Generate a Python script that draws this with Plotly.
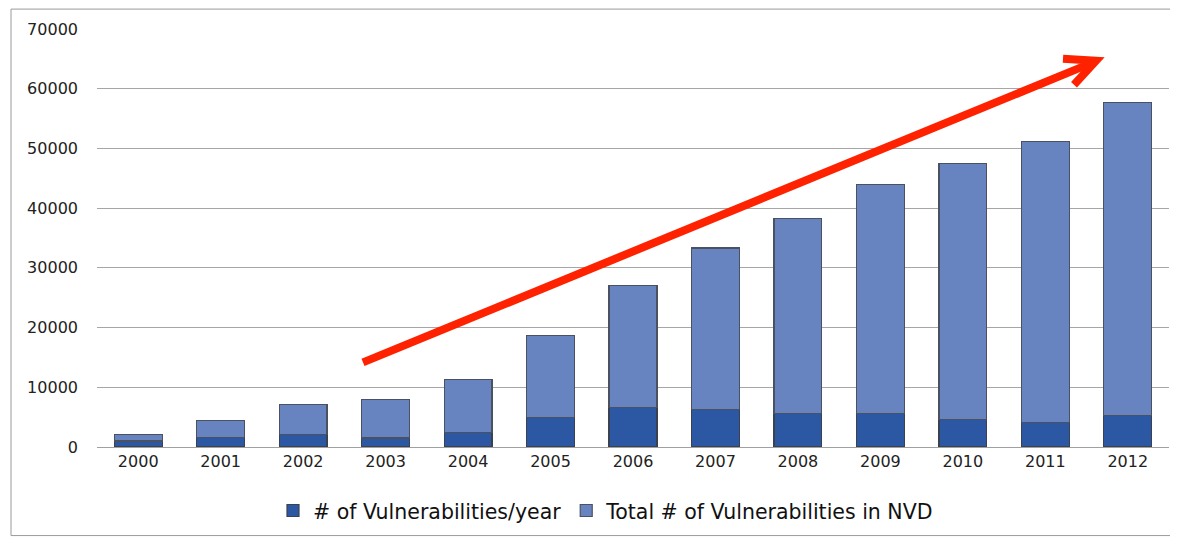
import plotly.graph_objects as go

years = ["2000", "2001", "2002", "2003", "2004", "2005", "2006", "2007", "2008", "2009", "2010", "2011", "2012"]
vulns_per_year = [1000, 1600, 2150, 1500, 2450, 4900, 6550, 6330, 5550, 5650, 4550, 4170, 5280]
total_in_nvd = [1150, 2780, 4950, 6400, 8850, 13800, 20450, 27000, 32650, 38350, 42950, 47030, 52420]
series_names = ["# of Vulnerabilities/year", "Total # of Vulnerabilities in NVD"]

W, H = 1178, 537
OFF = 8  # page body offset
ML, MR, MT, MB = 97 - OFF, 17, 27 - OFF, 98
YMAX = 70000
pw = W - ML - MR
ph = H - MT - MB


def px_to_data(px, py):
    # px/py: window pixel positions
    fx, fy = px - OFF, py - OFF
    cat = (fx - ML) / pw * len(years) - 0.5
    val = (H - MB - fy) / ph * YMAX
    return cat, val


fig = go.Figure()
fig.add_trace(go.Bar(
    x=years, y=vulns_per_year, name=series_names[0],
    marker=dict(color="#2c58a3", line=dict(color="#3a4252", width=1.2)),
))
fig.add_trace(go.Bar(
    x=years, y=total_in_nvd, name=series_names[1],
    marker=dict(color="#6884c0", line=dict(color="#4a5262", width=1.2)),
))

# red trend arrow (decoration)
x0, y0 = px_to_data(363, 362)
x1, y1 = px_to_data(1092, 61)
fig.add_shape(type="line", xref="x", yref="y", x0=x0, y0=y0, x1=x1, y1=y1,
              line=dict(color="#ff2200", width=8))
ax, ay = px_to_data(1063, 57)
tx, ty = px_to_data(1096, 59)
bx, by = px_to_data(1074, 83)
fig.add_shape(type="path", xref="x", yref="y",
              path=f"M {ax},{ay} L {tx},{ty} L {bx},{by}",
              line=dict(color="#ff2200", width=8))

# chart frame
fig.add_shape(type="rect", xref="paper", yref="paper",
              x0=(11 - OFF - ML) / pw, x1=(1177 - OFF - ML) / pw,
              y0=(H - MB - (536 - OFF)) / ph, y1=(H - MB - (7 - OFF)) / ph,
              line=dict(color="#9a9a9a", width=1))

fig.update_layout(
    barmode="stack",
    bargap=0.42,
    width=W, height=H,
    margin=dict(l=ML, r=MR, t=MT, b=MB),
    paper_bgcolor="white",
    plot_bgcolor="white",
    font=dict(family="DejaVu Sans", color="#222222"),
    showlegend=True,
    legend=dict(orientation="h", x=(606 - OFF - ML) / pw, xanchor="center",
                y=(H - MB - (511 - OFF)) / ph, yanchor="middle",
                font=dict(size=20.5, color="#111111"), itemwidth=30,
                traceorder="normal"),
    xaxis=dict(
        showgrid=False, showline=True, linecolor="#a0a0a0", linewidth=1,
        tickfont=dict(size=16, color="#222222"), ticks="",
    ),
    yaxis=dict(
        range=[0, YMAX], dtick=10000, showgrid=True, gridcolor="#a6a6a6", gridwidth=1,
        zeroline=False, showline=False, tickformat="d",
        tickfont=dict(size=16, color="#222222"), ticks="", ticklabelstandoff=18,
    ),
)

fig.write_html("out.html")
